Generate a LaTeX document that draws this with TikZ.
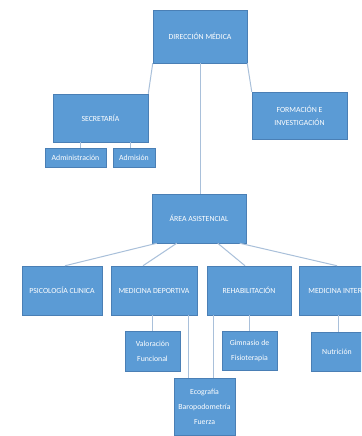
\documentclass[tikz,border=0pt]{standalone}
\usepackage{fontspec}
\setmainfont{Carlito}
\usetikzlibrary{calc}
\definecolor{boxfill}{HTML}{5B9BD5}
\definecolor{boxline}{HTML}{4A7FB5}
\definecolor{conn}{HTML}{A9C0DA}
\tikzset{
  box/.style={draw=boxline, line width=0.5bp, fill=boxfill, text=white, align=center,
    inner sep=0pt, font=\fontsize{7.8bp}{13bp}\selectfont},
  subbox/.style={box, font=\fontsize{7.8bp}{15bp}\selectfont},
  conn/.style={draw=conn, line width=1bp}
}
\begin{document}
\begin{tikzpicture}[x=1bp,y=-1bp]
\clip (0,0) rectangle (361,436);
\fill[white] (0,0) rectangle (361,436);
% level 0/1
\node[box, minimum width=94bp, minimum height=53bp] (dm) at (200,36.5) {DIRECCIÓN MÉDICA};
\node[box, minimum width=95bp, minimum height=48bp] (sec) at (100.5,118) {SECRETARÍA};
\node[box, minimum width=95bp, minimum height=47bp] (for) at (299.5,115.5) {FORMACIÓN E\\INVESTIGACIÓN};
\node[box, minimum width=61bp, minimum height=19bp] (adm) at (75.5,157.5) {Administración};
\node[box, minimum width=42bp, minimum height=19bp] (adn) at (134,157.5) {Admisión};
% area
\node[box, minimum width=94bp, minimum height=49bp] (area) at (199,218.5) {ÁREA ASISTENCIAL};
% row
\node[box, minimum width=80bp, minimum height=49bp] (psi) at (62,290.5) {PSICOLOGÍA CLINICA};
\node[box, minimum width=86bp, minimum height=49bp] (md) at (154,290.5) {MEDICINA DEPORTIVA};
\node[box, minimum width=84bp, minimum height=49bp] (reh) at (249,290.5) {REHABILITACIÓN};
\node[box, minimum width=82bp, minimum height=49bp] (mi) at (340,290.5) {MEDICINA INTERNA};
% sub
\node[subbox, minimum width=55bp, minimum height=40bp] (val) at (152.5,351) {Valoración\\Funcional};
\node[subbox, minimum width=55bp, minimum height=39bp] (gim) at (249.5,350.5) {Gimnasio de\\Fisioterapia};
\node[subbox, minimum width=52bp, minimum height=39bp] (nut) at (337,351.5) {Nutrición};
\node[subbox, minimum width=61bp, minimum height=57bp] (eco) at (204.5,406.5) {Ecografía\\Baropodometría\\Fuerza};
% connectors
\draw[conn] (dm.south west) -- (sec.north east);
\draw[conn] (dm.south east) -- (for.north west);
\draw[conn] (dm.south) -- (dm.south |- area.north);
\draw[conn] ([xshift=4.5bp]adm.north |- sec.south) -- ([xshift=4.5bp]adm.north);
\draw[conn] ([xshift=-4bp]adn.north |- sec.south) -- ([xshift=-4bp]adn.north);
\draw[conn] ([xshift=5bp]area.south west) -- ([xshift=3bp]psi.north);
\draw[conn] ([xshift=25bp]area.south west) -- ([xshift=-11bp]md.north);
\draw[conn] ([xshift=66bp]area.south west) -- ([xshift=-4bp]reh.north);
\draw[conn] ([xshift=88bp]area.south west) -- ([xshift=-3bp]mi.north);
\draw[conn] (val.north |- md.south) -- (val.north);
\draw[conn] ([xshift=-16.5bp]eco.north |- md.south) -- ([xshift=-16.5bp]eco.north);
\draw[conn] (gim.north |- reh.south) -- (gim.north);
\draw[conn] ([xshift=8.5bp]eco.north |- reh.south) -- ([xshift=8.5bp]eco.north);
\draw[conn] ([xshift=1bp]nut.north |- mi.south) -- ([xshift=1bp]nut.north);
\end{tikzpicture}
\end{document}
